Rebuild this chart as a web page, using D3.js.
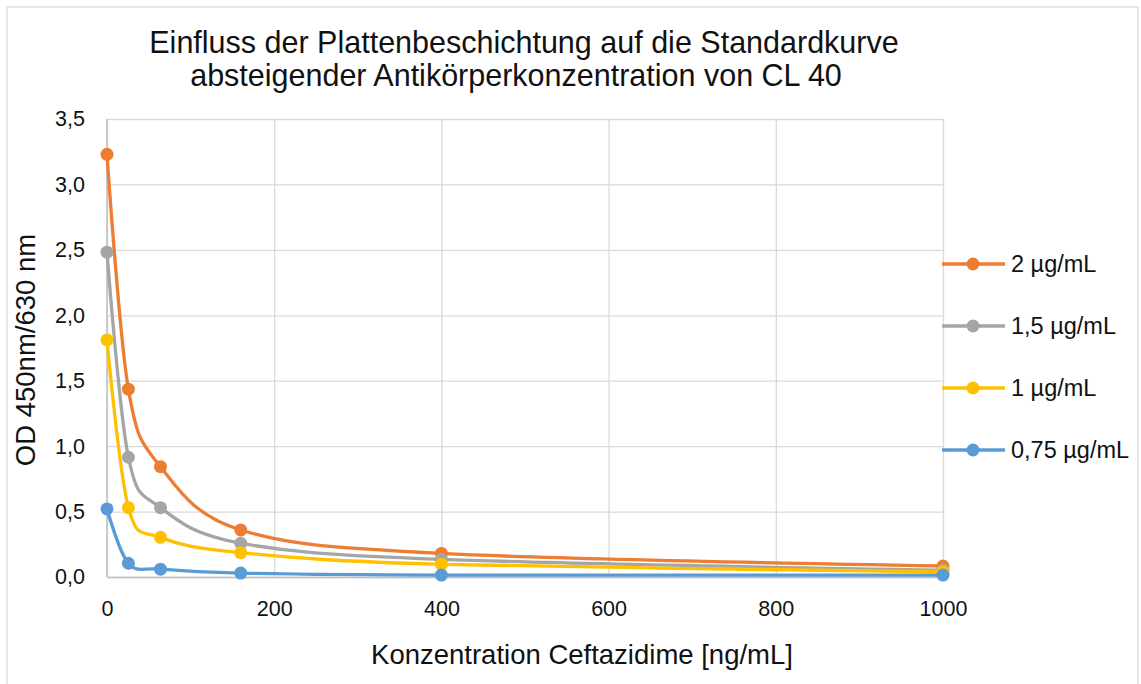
<!DOCTYPE html>
<html lang="de">
<head>
<meta charset="UTF-8">
<title>Einfluss der Plattenbeschichtung auf die Standardkurve</title>
<script src="https://d3js.org/d3.v7.min.js"></script>
<style>
  body { margin: 0; background: #fff; }
  text { font-family: "Liberation Sans", Arial, sans-serif; fill: #111; }
</style>
</head>
<body>
<svg id="chart" width="1141" height="684"></svg>
<script>
// data
const concentrations = [0, 25.6, 64, 160, 400, 1000];
const seriesNames = ["2 µg/mL", "1,5 µg/mL", "1 µg/mL", "0,75 µg/mL"];
const od2 = [3.23, 1.435, 0.843, 0.359, 0.18, 0.084];
const od15 = [2.482, 0.915, 0.53, 0.258, 0.135, 0.052];
const od1 = [1.812, 0.53, 0.303, 0.186, 0.097, 0.04];
const od075 = [0.52, 0.105, 0.06, 0.03, 0.015, 0.015];
const xTicks = [0, 200, 400, 600, 800, 1000];
const yTicks = [0, 0.5, 1, 1.5, 2, 2.5, 3, 3.5];
const colors = ["#ED7D31", "#A5A5A5", "#FFC000", "#5B9BD5"];

const series = [od2, od15, od1, od075].map((vals, i) => ({
    name: seriesNames[i],
    color: colors[i],
    points: vals.map((v, j) => ({ x: concentrations[j], y: v }))
}));

const margin = { top: 119, right: 198, bottom: 107, left: 107 };
const W = 1141, H = 684;
const width = W - margin.left - margin.right;
const height = H - margin.top - margin.bottom;

const svg = d3.select("#chart");

// chart border
svg.append("rect")
    .attr("x", 7).attr("y", 7)
    .attr("width", 1131).attr("height", 690)
    .attr("fill", "#fff")
    .attr("stroke", "#d9d9d9")
    .attr("stroke-width", 1.3);

const g = svg.append("g")
    .attr("transform", "translate(" + margin.left + "," + margin.top + ")");

const x = d3.scaleLinear().domain([0, 1000]).range([0, width]);
const y = d3.scaleLinear().domain([0, 3.5]).range([height, 0]);

const fmt = d => d3.format(".1f")(d).replace(".", ",");

// horizontal grid
g.append("g")
    .call(d3.axisLeft(y).tickValues(yTicks).tickSize(-width).tickFormat(""))
    .call(s => s.select(".domain").remove())
    .call(s => s.selectAll("line").attr("stroke", "#d9d9d9").attr("stroke-width", 1.3));

// vertical grid
g.append("g")
    .attr("transform", "translate(0," + height + ")")
    .call(d3.axisBottom(x).tickValues(xTicks).tickSize(-height).tickFormat(""))
    .call(s => s.select(".domain").remove())
    .call(s => s.selectAll("line").attr("stroke", "#d9d9d9").attr("stroke-width", 1.3));

// y labels
g.append("g")
    .call(d3.axisLeft(y).tickValues(yTicks).tickSize(0).tickPadding(22).tickFormat(fmt))
    .call(s => s.select(".domain").remove())
    .call(s => s.selectAll("text").style("font-size", "21.5px").attr("fill", "#111"));

// x axis
g.append("g")
    .attr("transform", "translate(0," + height + ")")
    .call(d3.axisBottom(x).tickValues(xTicks).tickSize(0).tickPadding(24).tickFormat(d3.format("d")))
    .call(s => s.select(".domain").attr("stroke", "#bfbfbf").attr("stroke-width", 1.5))
    .call(s => s.selectAll("text").style("font-size", "21.5px").attr("fill", "#111"));

// y axis line
g.append("line")
    .attr("x1", 0).attr("x2", 0).attr("y1", 0).attr("y2", height)
    .attr("stroke", "#bfbfbf").attr("stroke-width", 1.5);

const line = d3.line()
    .x(d => x(d.x))
    .y(d => y(d.y))
    .curve(d3.curveCardinal.tension(0));

series.forEach(s => {
    g.append("path")
        .datum(s.points)
        .attr("fill", "none")
        .attr("stroke", s.color)
        .attr("stroke-width", 3.3)
        .attr("stroke-linecap", "round")
        .attr("d", line);
    g.selectAll(null)
        .data(s.points)
        .enter().append("circle")
        .attr("cx", d => x(d.x))
        .attr("cy", d => y(d.y))
        .attr("r", 6.5)
        .attr("fill", s.color);
});

// title
const title = svg.append("text")
    .attr("y", 53)
    .attr("text-anchor", "middle")
    .style("font-size", "30.5px");
title.append("tspan").attr("x", 524).text("Einfluss der Plattenbeschichtung auf die Standardkurve");
title.append("tspan").attr("x", 516).attr("dy", 33).text("absteigender Antikörperkonzentration von CL 40");

// axis titles
svg.append("text")
    .attr("x", 582)
    .attr("y", 664)
    .attr("text-anchor", "middle")
    .style("font-size", "27.5px")
    .text("Konzentration Ceftazidime [ng/mL]");

svg.append("text")
    .attr("transform", "translate(35," + (margin.top + height / 2 + 2) + ") rotate(-90)")
    .attr("text-anchor", "middle")
    .style("font-size", "27.5px")
    .text("OD 450nm/630 nm");

// legend
const legend = svg.append("g").attr("transform", "translate(942,264)");
series.forEach((s, i) => {
    const row = legend.append("g").attr("transform", "translate(0," + (i * 62) + ")");
    row.append("line")
        .attr("x1", 0).attr("x2", 63)
        .attr("stroke", s.color).attr("stroke-width", 3.3);
    row.append("circle")
        .attr("cx", 31).attr("r", 6.5).attr("fill", s.color);
    row.append("text")
        .attr("x", 69)
        .attr("dy", "0.35em")
        .style("font-size", "23.5px")
        .text(s.name);
});
</script>
</body>
</html>
